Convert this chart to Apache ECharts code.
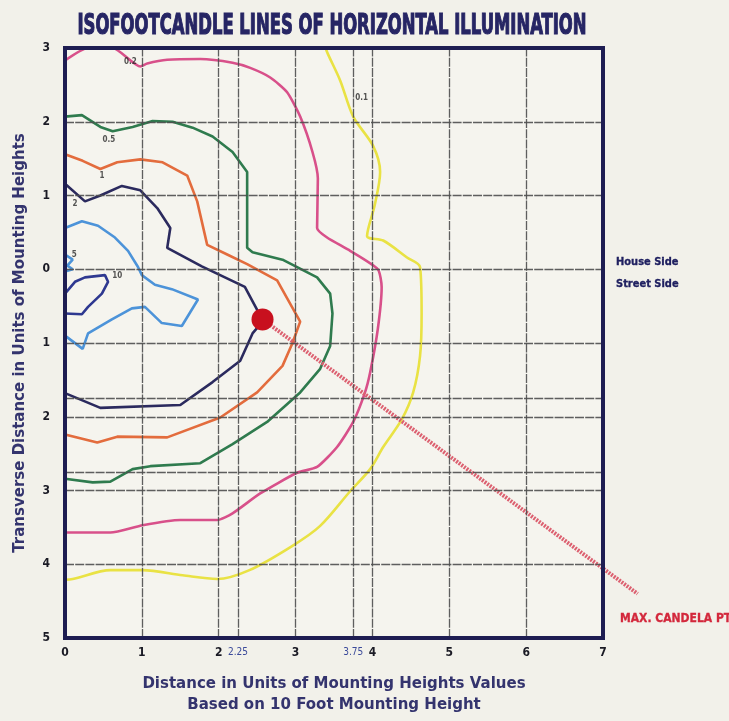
<!DOCTYPE html>
<html><head><meta charset="utf-8">
<script src="https://cdn.jsdelivr.net/npm/echarts@6/dist/echarts.min.js"></script>
<style>html,body{margin:0;padding:0;background:#f2f1ea}#c{width:729px;height:721px}</style>
</head><body><div id="c"></div>
<script>
// ---- tick labels / grid positions ----
const xTickLabels = [0, 1, 2, 2.25, 3, 3.75, 4, 5, 6, 7];
const yTickLabels = [3, 2, 1, 0, -1, -2, -3, -4, -5];
const gridX = [1, 2, 2.25, 3, 3.75, 4, 5, 6];
const gridY = [2, 1, 0, -1, -1.75, -2, -2.75, -3, -4];

// ---- isofootcandle contours [distance, transverse] ----
const fc01 = [[3.39,3.0],[3.42,2.92],[3.58,2.56],[3.75,2.07],[4.01,1.67],[4.10,1.32],[4.03,0.87],[3.93,0.45],[4.14,0.39],[4.45,0.16],[4.62,0.03],[4.64,-0.60],[4.62,-1.17],[4.53,-1.67],[4.38,-2.04],[4.14,-2.41],[3.97,-2.71],[3.71,-3.01],[3.32,-3.48],[2.96,-3.75],[2.4,-4.08],[1.98,-4.2],[1.53,-4.15],[1.01,-4.08],[0.59,-4.08],[0.10,-4.2],[0,-4.21]];
const fc02 = [[0,2.83],[0.3,3.0],[0.62,3.0],[0.98,2.75],[1.07,2.79],[1.33,2.84],[1.76,2.85],[2.18,2.80],[2.41,2.73],[2.67,2.60],[2.89,2.40],[3.06,2.07],[3.22,1.59],[3.29,1.23],[3.28,0.56],[3.41,0.43],[3.71,0.25],[4.07,0.0],[4.12,-0.24],[4.07,-0.81],[3.97,-1.40],[3.90,-1.68],[3.75,-2.07],[3.54,-2.41],[3.28,-2.68],[3.02,-2.76],[2.54,-3.04],[2.18,-3.31],[1.98,-3.40],[1.50,-3.40],[1.01,-3.47],[0.59,-3.57],[0,-3.57]];
const fc05 = [[0,2.07],[0.22,2.09],[0.46,1.93],[0.62,1.87],[0.88,1.93],[1.14,2.01],[1.40,2.00],[1.66,1.92],[1.92,1.80],[2.18,1.59],[2.37,1.32],[2.37,0.29],[2.44,0.23],[2.83,0.13],[3.28,-0.11],[3.45,-0.33],[3.48,-0.60],[3.45,-1.04],[3.32,-1.35],[3.06,-1.67],[2.63,-2.07],[2.18,-2.37],[1.76,-2.63],[1.11,-2.67],[0.88,-2.71],[0.59,-2.88],[0.36,-2.89],[0,-2.84]];
const fc1 = [[0,1.56],[0.23,1.47],[0.46,1.36],[0.68,1.45],[0.98,1.49],[1.27,1.45],[1.59,1.27],[1.72,0.92],[1.85,0.33],[2.11,0.20],[2.37,0.07],[2.76,-0.15],[3.06,-0.71],[2.96,-1.00],[2.83,-1.31],[2.50,-1.67],[2.02,-2.01],[1.33,-2.28],[0.68,-2.27],[0.42,-2.35],[0,-2.24]];
const fc2 = [[0,1.16],[0.26,0.92],[0.46,1.00],[0.74,1.13],[0.98,1.07],[1.20,0.83],[1.37,0.56],[1.33,0.29],[1.78,0.04],[2.34,-0.24],[2.50,-0.55],[2.57,-0.71],[2.44,-0.87],[2.28,-1.24],[1.92,-1.53],[1.50,-1.84],[0.46,-1.88],[0,-1.68]];
const fc5 = [[0,0.56],[0.22,0.65],[0.43,0.59],[0.65,0.43],[0.82,0.25],[0.95,0.03],[1.0,-0.08],[1.17,-0.21],[1.39,-0.27],[1.73,-0.41],[1.52,-0.77],[1.26,-0.73],[1.04,-0.51],[0.87,-0.53],[0.61,-0.68],[0.30,-0.87],[0.23,-1.08],[0,-0.9]];
const fc5b = [[0,0.2],[0.1,0.13],[0.03,0.05],[0.1,0.0],[0,-0.03]];
const fc10 = [[0,-0.33],[0.13,-0.17],[0.26,-0.11],[0.52,-0.08],[0.56,-0.17],[0.48,-0.33],[0.30,-0.51],[0.22,-0.61],[0,-0.60]];

// ---- contour labels ----
const contourLevels = ['0.1', '0.2', '0.5', '1', '2', '5', '10'];
const contourLabelPts = [[3.86,2.32],[0.85,2.81],[0.57,1.76],[0.48,1.27],[0.13,0.89],[0.12,0.19],[0.68,-0.09]];

// ---- max candela point and its ray ----
const maxCandela = [2.57, -0.68];
const candelaRayEnd = [7.45, -4.4];

const chart = echarts.init(document.getElementById('c'));
const near = (a, b) => Math.abs(a - b) < 1e-6;
const cond = 'DejaVu Sans Condensed';
const frame = { show: true, onZero: false, lineStyle: { color: '#1e1d52', width: 4, cap: 'square' } };

function contour(data, color, smooth) {
  return { type: 'line', data: data, symbol: 'none', smooth: smooth || false, silent: true, z: 3,
           lineStyle: { color: color, width: 2.6 } };
}

chart.setOption({
  backgroundColor: '#f2f1ea',
  animation: false,
  grid: { left: 65, top: 48, width: 538, height: 595, show: true, backgroundColor: '#f5f4ee', borderWidth: 0 },
  graphic: [
    { type: 'text', x: 332, y: 26, scaleX: 0.63, z: 20,
      style: { text: 'ISOFOOTCANDLE LINES OF HORIZONTAL ILLUMINATION', fontFamily: cond, fontWeight: 'bold',
               fontSize: 29, fill: '#262564', stroke: '#262564', lineWidth: 1.2, align: 'center', verticalAlign: 'middle' } },
    { type: 'text', x: 616, y: 262, z: 20,
      style: { text: 'House Side', fontFamily: cond, fontWeight: 'bold', fontSize: 11, fill: '#1f2060',
               stroke: '#1f2060', lineWidth: 0.3, align: 'left', verticalAlign: 'middle' } },
    { type: 'text', x: 616, y: 284, z: 20,
      style: { text: 'Street Side', fontFamily: cond, fontWeight: 'bold', fontSize: 11, fill: '#1f2060',
               stroke: '#1f2060', lineWidth: 0.3, align: 'left', verticalAlign: 'middle' } },
    { type: 'text', x: 620, y: 619, z: 20,
      style: { text: 'MAX. CANDELA PT.', fontFamily: cond, fontWeight: 'bold', fontSize: 12, fill: '#d3283c',
               stroke: '#d3283c', lineWidth: 0.3, align: 'left', verticalAlign: 'middle' } }
  ],
  xAxis: [
    { type: 'value', min: 0, max: 7, interval: 0.25, z: 10,
      axisLine: frame, axisTick: { show: false }, splitLine: { show: false },
      name: 'Distance in Units of Mounting Heights Values\nBased on 10 Foot Mounting Height',
      nameLocation: 'middle', nameGap: 36,
      nameTextStyle: { fontFamily: 'DejaVu Sans', fontWeight: 'bold', fontSize: 15, color: '#34346e', lineHeight: 21 },
      axisLabel: {
        margin: 9,
        formatter: function (v) {
          if (!xTickLabels.some(t => near(t, v))) return '';
          return Number.isInteger(v) ? '{b|' + v + '}' : '{s|' + v + '}';
        },
        rich: {
          b: { fontFamily: cond, fontWeight: 'bold', fontSize: 12, color: '#1a1a24' },
          s: { fontFamily: cond, fontWeight: 'normal', fontSize: 10, color: '#3b4a9a' }
        }
      } },
    { type: 'value', min: 0, max: 7, position: 'top', z: 10,
      axisLine: frame, axisTick: { show: false }, axisLabel: { show: false }, splitLine: { show: false } }
  ],
  yAxis: [
    { type: 'value', min: -5, max: 3, interval: 1, z: 10,
      axisLine: frame, axisTick: { show: false }, splitLine: { show: false },
      name: 'Transverse Distance in Units of Mounting Heights', nameLocation: 'middle', nameGap: 37, nameRotate: 90,
      nameTextStyle: { fontFamily: 'DejaVu Sans', fontWeight: 'bold', fontSize: 15, color: '#34346e' },
      axisLabel: { margin: 15, fontFamily: cond, fontWeight: 'bold', fontSize: 12, color: '#1a1a24',
        formatter: v => yTickLabels.some(t => near(t, v)) ? String(Math.abs(v)) : '' } },
    { type: 'value', min: -5, max: 3, position: 'right', z: 10,
      axisLine: frame, axisTick: { show: false }, axisLabel: { show: false }, splitLine: { show: false } }
  ],
  series: [
    { type: 'line', data: [[0, 0]], symbol: 'none', silent: true, z: 1, lineStyle: { width: 0 },
      markLine: { symbol: 'none', silent: true, label: { show: false },
        lineStyle: { color: '#4e4e4e', width: 1.3, type: [9, 1.2], opacity: 0.9 },
        data: gridX.map(v => ({ xAxis: v })).concat(gridY.map(v => ({ yAxis: v }))) } },
    contour(fc01, '#e9e244', 0.3),
    contour(fc02, '#d8508a', 0.2),
    contour(fc05, '#2f7b4e'),
    contour(fc1, '#e36c3d'),
    contour(fc2, '#2b2a5e'),
    contour(fc5, '#4c93d9'),
    contour(fc5b, '#4c93d9'),
    contour(fc10, '#2e3890'),
    { type: 'custom', clip: false, silent: true, z: 4,
      data: [[maxCandela[0], maxCandela[1], candelaRayEnd[0], candelaRayEnd[1]]],
      renderItem: function (params, api) {
        const p0 = api.coord([api.value(0), api.value(1)]);
        const p1 = api.coord([api.value(2), api.value(3)]);
        return { type: 'line', shape: { x1: p0[0], y1: p0[1], x2: p1[0], y2: p1[1] },
                 style: { stroke: '#dc6070', lineWidth: 4, lineDash: [2, 1.2] } };
      } },
    { type: 'scatter', data: [maxCandela], symbolSize: 22, z: 5, silent: true,
      itemStyle: { color: '#c8101e', opacity: 1 } },
    { type: 'scatter', silent: true, z: 6, symbolSize: 1, itemStyle: { color: 'transparent' },
      data: contourLevels.map((n, i) => ({ name: n, value: contourLabelPts[i] })),
      label: { show: true, position: 'inside', formatter: '{b}', fontFamily: cond, fontWeight: 'bold', fontSize: 8, color: '#2a2a2a' } }
  ]
});
</script></body></html>
